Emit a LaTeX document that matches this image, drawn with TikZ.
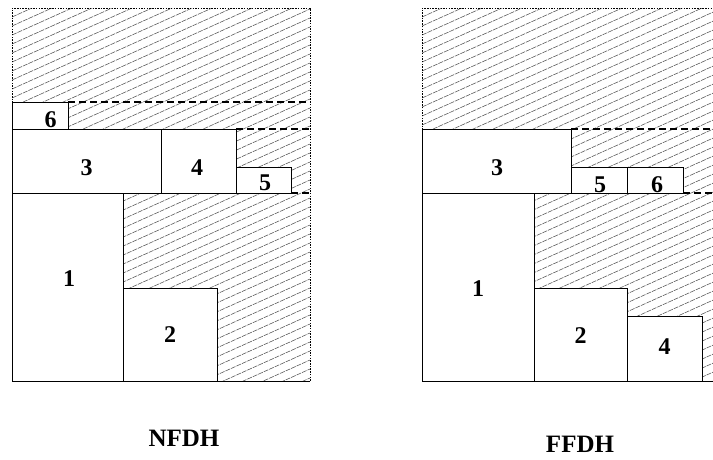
\documentclass[tikz,border=0pt]{standalone}
\usepackage{fontspec}
\setmainfont{Liberation Serif}
\begin{document}
\begin{tikzpicture}[x=1pt,y=-1pt,
  hatch/.style={black!68, line width=0.55pt, dash pattern=on 5pt off 1pt},
  binedge/.style={black, line width=0.6pt, dash pattern=on 1.5pt off 1.2pt},
  item/.style={draw=black, fill=white, line width=0.9pt},
  level/.style={black, line width=1.2pt, dash pattern=on 7pt off 4pt},
  num/.style={font=\fontsize{24}{24}\bfseries\selectfont, inner sep=0pt},
  caption/.style={font=\fontsize{25}{25}\bfseries\selectfont, inner sep=0pt}]
\clip (0,0) rectangle (713,459);
\fill[white] (0,0) rectangle (713,459);

% ---- strip bins: hatched free area, dotted sides, solid floor ----
\foreach \x in {12,422}{
  \begin{scope}
    \clip (\x,8) rectangle ({\x+298},381);
    \foreach \c in {0,9,...,520}
      \draw[hatch] (\x,{8+\c}) -- ({\x+298},{8+\c-134});
  \end{scope}
  \draw[binedge] (\x,381) -- (\x,8) -- ({\x+298},8) -- ({\x+298},381);
  \draw[black, line width=0.9pt] (\x,381) -- ({\x+298},381);
}

% ---- NFDH packing ----
\draw[item] (12,193) rectangle (123,381);
\draw[item] (123,288) rectangle (217,381);
\draw[item] (12,129) rectangle (161,193);
\draw[item] (161,129) rectangle (236,193);
\draw[item] (236,167) rectangle (291,193);
\draw[item] (12,102) rectangle (68,129);
\draw[level] (68,102) -- (310,102);
\draw[level] (236,129) -- (310,129);
\draw[level] (291,193) -- (310,193);
\node[num] (n1) at (69,279) {1};
\node[num] (n2) at (170,335) {2};
\node[num] (n3) at (86.5,168) {3};
\node[num] (n4) at (197,168) {4};
\node[num] (n5) at (265,183) {5};
\node[num] (n6) at (50.5,119.5) {6};
\node[caption] (nfdh) at (184,438) {NFDH};

% ---- FFDH packing ----
\draw[item] (422,193) rectangle (534,381);
\draw[item] (534,288) rectangle (627,381);
\draw[item] (627,316) rectangle (702,381);
\draw[item] (422,129) rectangle (571,193);
\draw[item] (571,167) rectangle (627,193);
\draw[item] (627,167) rectangle (683,193);
\draw[level] (571,129) -- (720,129);
\draw[level] (683,193) -- (720,193);
\node[num] (f1) at (478,289) {1};
\node[num] (f2) at (580.5,335.5) {2};
\node[num] (f3) at (497,168) {3};
\node[num] (f4) at (664.5,346.5) {4};
\node[num] (f5) at (600,184.5) {5};
\node[num] (f6) at (657,184.5) {6};
\node[caption] (ffdh) at (580,444) {FFDH};
\end{tikzpicture}
\end{document}
